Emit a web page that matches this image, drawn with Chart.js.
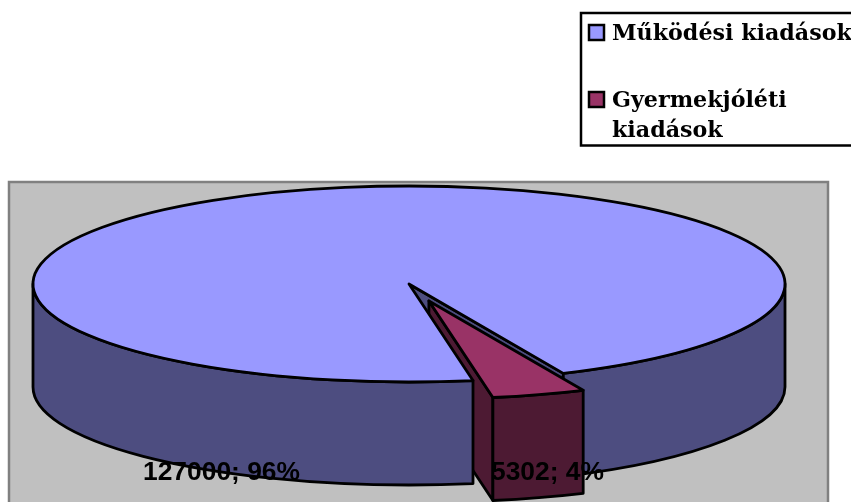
<!DOCTYPE html>
<html>
<head>
<meta charset="utf-8">
<script src="https://cdn.jsdelivr.net/npm/chart.js@4"></script>
<style>
  html, body { margin: 0; padding: 0; background: #fff; overflow: hidden; }
  #wrap { width: 851px; height: 502px; }
</style>
</head>
<body>
<div id="wrap"><canvas id="myChart_pie" width="851" height="502"></canvas></div>
<script>
const categories = ['Működési kiadások', 'Gyermekjóléti kiadások'];
const values = [127000, 5302];
const topColors = ['#9999FF', '#993366'];
const sideColors = ['#4D4D80', '#4D1A33'];

// look of the fake 3d pie
const centerX = 409, centerY = 284, radius = 376, squash = 98 / 376;
const depth = 103, explode = 68;

function total() {
  return values.reduce((a, b) => a + b, 0);
}

function wall(ctx, cx, cy, r, from, to, color) {
  ctx.beginPath();
  ctx.ellipse(cx, cy, r, r * squash, 0, from, to);
  ctx.ellipse(cx, cy + depth, r, r * squash, 0, to, from, true);
  ctx.closePath();
  ctx.fillStyle = color;
  ctx.fill();
  ctx.stroke();
}

function plane(ctx, cx, cy, r, angle, color) {
  const ex = cx + r * Math.cos(angle), ey = cy + r * squash * Math.sin(angle);
  ctx.beginPath();
  ctx.moveTo(cx, cy);
  ctx.lineTo(ex, ey);
  ctx.lineTo(ex, ey + depth);
  ctx.lineTo(cx, cy + depth);
  ctx.closePath();
  ctx.fillStyle = color;
  ctx.fill();
  ctx.stroke();
}

function topFace(ctx, arc, cx, cy) {
  // the arc element itself paints the fill, squashed into an ellipse
  ctx.save();
  ctx.translate(cx, cy);
  ctx.scale(1, squash);
  ctx.translate(-arc.x, -arc.y);
  arc.draw(ctx);
  ctx.restore();
  ctx.beginPath();
  ctx.moveTo(cx, cy);
  ctx.ellipse(cx, cy, arc.outerRadius, arc.outerRadius * squash, 0, arc.startAngle, arc.endAngle);
  ctx.closePath();
  ctx.stroke();
}

const pie3d = {
  id: 'pie3d',
  beforeDraw(chart) {
    const ctx = chart.ctx;
    ctx.save();
    // panel runs off the bottom of the picture
    ctx.fillStyle = '#C0C0C0';
    ctx.strokeStyle = '#808080';
    ctx.lineWidth = 2.5;
    ctx.fillRect(9, 182, 819, 330);
    ctx.strokeRect(9, 182, 819, 330);
    ctx.restore();
  },
  beforeDatasetsDraw(chart) {
    const ctx = chart.ctx;
    const [main, small] = chart.getDatasetMeta(0).data;
    const r = main.outerRadius;
    ctx.save();
    ctx.strokeStyle = '#000';
    ctx.lineWidth = 2.8;
    ctx.lineJoin = 'round';

    // back parts of the big slice, seen through the gap
    plane(ctx, centerX, centerY, r, main.endAngle, sideColors[0]);
    wall(ctx, centerX, centerY, r, Math.PI * 2, main.endAngle, sideColors[0]);

    // pulled out slice
    const mid = (small.startAngle + small.endAngle) / 2;
    const sx = centerX + explode * Math.cos(mid);
    const sy = centerY + explode * squash * Math.sin(mid);
    plane(ctx, sx, sy, r, small.endAngle, sideColors[1]);
    wall(ctx, sx, sy, r, small.startAngle, small.endAngle, sideColors[1]);
    topFace(ctx, small, sx, sy);

    // front of the big slice covers the rest
    wall(ctx, centerX, centerY, r, main.startAngle, Math.PI, sideColors[0]);
    topFace(ctx, main, centerX, centerY);
    ctx.restore();
    return false;
  },
  afterDraw(chart) {
    const ctx = chart.ctx;
    ctx.save();

    // data labels
    ctx.fillStyle = '#000';
    ctx.font = 'bold 26.4px "Liberation Sans"';
    ctx.textBaseline = 'alphabetic';
    const labelX = [143, 491];
    values.forEach((v, i) => {
      ctx.fillText(v + '; ' + Math.round(v / total() * 100) + '%', labelX[i], 480);
    });

    // legend box runs off the right edge like the original
    ctx.fillStyle = '#fff';
    ctx.strokeStyle = '#000';
    ctx.lineWidth = 2.5;
    ctx.fillRect(581, 13, 290, 132.5);
    ctx.strokeRect(581, 13, 290, 132.5);
    ctx.font = 'bold 22.2px "DejaVu Serif"';
    const rowY = [40, 107];
    categories.forEach((name, i) => {
      ctx.fillStyle = topColors[i];
      ctx.fillRect(589, rowY[i] - 15, 15, 15);
      ctx.strokeRect(589, rowY[i] - 15, 15, 15);
      ctx.fillStyle = '#000';
      const lines = i === 0 ? [name] : name.split(' ');
      lines.forEach((line, j) => ctx.fillText(line, 612, rowY[i] + j * 30));
    });
    ctx.restore();
  }
};

new Chart(document.getElementById('myChart_pie'), {
  type: 'pie',
  data: {
    labels: categories,
    datasets: [{
      data: values,
      backgroundColor: topColors,
      borderWidth: 0
    }]
  },
  options: {
    responsive: false,
    animation: false,
    rotation: 170.2,
    radius: radius,
    plugins: {
      legend: { display: false },
      tooltip: { enabled: false }
    }
  },
  plugins: [pie3d]
});
</script>
</body>
</html>
